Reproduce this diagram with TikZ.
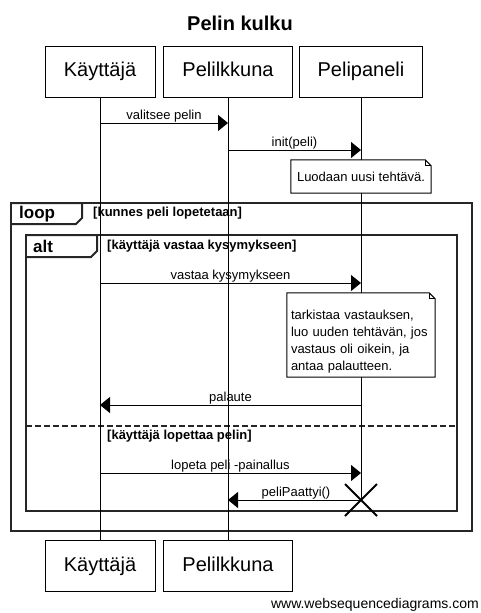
\documentclass[tikz,border=0pt]{standalone}
\usepackage{fontspec}
\setmainfont{Liberation Sans}
\usetikzlibrary{arrows.meta}
\begin{document}
\begin{tikzpicture}[x=1pt,y=-1pt,
  part/.style={draw, line width=1pt, minimum height=51pt, inner sep=0pt, text height=14.5pt, text depth=4pt, font=\fontsize{20}{24}\selectfont},
  msg/.style={line width=1pt, -{Triangle[length=10pt,width=16pt]}},
  lbl/.style={font=\fontsize{13}{15}\selectfont, anchor=base, inner sep=0pt},
  frame/.style={line width=2pt, draw=black!85},
  ftag/.style={font=\bfseries\fontsize{17}{20}\selectfont, anchor=west, inner sep=0pt},
  guard/.style={font=\bfseries\fontsize{13}{15}\selectfont, anchor=west, inner sep=0pt},
  life/.style={line width=1pt},
  notebox/.style={fill=white, inner sep=0pt, font=\fontsize{13}{17}\selectfont},
  noteline/.style={line width=1pt}
]
\useasboundingbox (0,0) rectangle (480,613);
% title
\node[font=\bfseries\fontsize{20}{24}\selectfont] (title) at (240,23) {Pelin kulku};
% participants
\node[part, minimum width=110pt] (kt) at (100,71.5) {Käyttäjä};
\node[part, minimum width=129pt] (pk) at (228,71.5) {Pelilkkuna};
\node[part, minimum width=123pt] (pp) at (361,71.5) {Pelipaneli};
\node[part, minimum width=110pt] (kb) at (100,566) {Käyttäjä};
\node[part, minimum width=129pt] (pkb) at (228,566) {Pelilkkuna};
% frames
\draw[frame] (11,203) rectangle (472,531);
\draw[frame] (11,203) -- (82,203) -- (82,218) -- (76,224) -- (11,224);
\node[ftag] (loopl) at (19,214) {loop};
\node[guard] (loopg) at (93,213) {[kunnes peli lopetetaan]};
\draw[frame] (26,235) rectangle (457,511);
\draw[frame] (26,235) -- (97,235) -- (97,251) -- (91,257) -- (26,257);
\node[ftag] (altl) at (33,246) {alt};
\node[guard] (altg) at (107,246) {[käyttäjä vastaa kysymykseen]};
\draw[frame, line width=1.6pt, dash pattern=on 6pt off 3pt] (26,426) -- (457,426);
\node[guard] (altg2) at (107,436) {[käyttäjä lopettaa pelin]};
% lifelines
\coordinate (px) at (361,500);
\draw[life] (kt.south) -- (kb.north);
\draw[life] (pk.south) -- (pkb.north);
\draw[life] (pp.south) -- (px);
% messages
\coordinate (m1a) at (100,123); \coordinate (m1b) at (228,123);
\draw[msg] (m1a) -- (m1b);
\node[lbl] (l1) at (164,119) {valitsee pelin};
\coordinate (m2a) at (228,150); \coordinate (m2b) at (361,150);
\draw[msg] (m2a) -- (m2b);
\node[lbl] (l2) at (294.5,146) {init(peli)};
\coordinate (m3a) at (100,283); \coordinate (m3b) at (361,283);
\draw[msg] (m3a) -- (m3b);
\node[lbl] (l3) at (230.5,279) {vastaa kysymykseen};
\coordinate (m4a) at (361,405); \coordinate (m4b) at (100,405);
\draw[msg] (m4a) -- (m4b);
\node[lbl] (l4) at (230.5,401) {palaute};
\coordinate (m5a) at (100,473); \coordinate (m5b) at (361,473);
\draw[msg] (m5a) -- (m5b);
\node[lbl] (l5) at (230.5,469) {lopeta peli -painallus};
\coordinate (m6b) at (228,500);
\draw[msg] (px) -- (m6b);
\node[lbl] (l6) at (296,496) {peliPaattyi()};
% notes
\node[notebox, minimum width=140pt, minimum height=33pt] (n1) at (361,176.5) {Luodaan uusi tehtävä.};
\draw[noteline] (n1.north west) -- ([xshift=-6pt]n1.north east) -- ([yshift=-6pt]n1.north east) -- (n1.south east) -- (n1.south west) -- cycle;
\draw[line width=0.8pt] ([xshift=-6pt]n1.north east) -- ([xshift=-6pt,yshift=-6pt]n1.north east) -- ([yshift=-6pt]n1.north east);
\node[notebox, minimum width=148pt, minimum height=84pt, text width=140pt, align=left] (n2) at (361,335) {\rule{0pt}{22pt}tarkistaa vastauksen,\\luo uuden tehtävän, jos\\vastaus oli oikein, ja\\antaa palautteen.};
\draw[noteline] (n2.north west) -- ([xshift=-6pt]n2.north east) -- ([yshift=-6pt]n2.north east) -- (n2.south east) -- (n2.south west) -- cycle;
\draw[line width=0.8pt] ([xshift=-6pt]n2.north east) -- ([xshift=-6pt,yshift=-6pt]n2.north east) -- ([yshift=-6pt]n2.north east);
% destruction
\draw[line width=2pt] ([xshift=-16pt,yshift=16pt]px) -- ([xshift=16pt,yshift=-16pt]px)
  ([xshift=16pt,yshift=16pt]px) -- ([xshift=-16pt,yshift=-16pt]px);
% footer
\node[font=\fontsize{14}{16}\selectfont, anchor=east, inner sep=0pt] (wsd) at (479,605) {www.websequencediagrams.com};
\end{tikzpicture}
\end{document}
